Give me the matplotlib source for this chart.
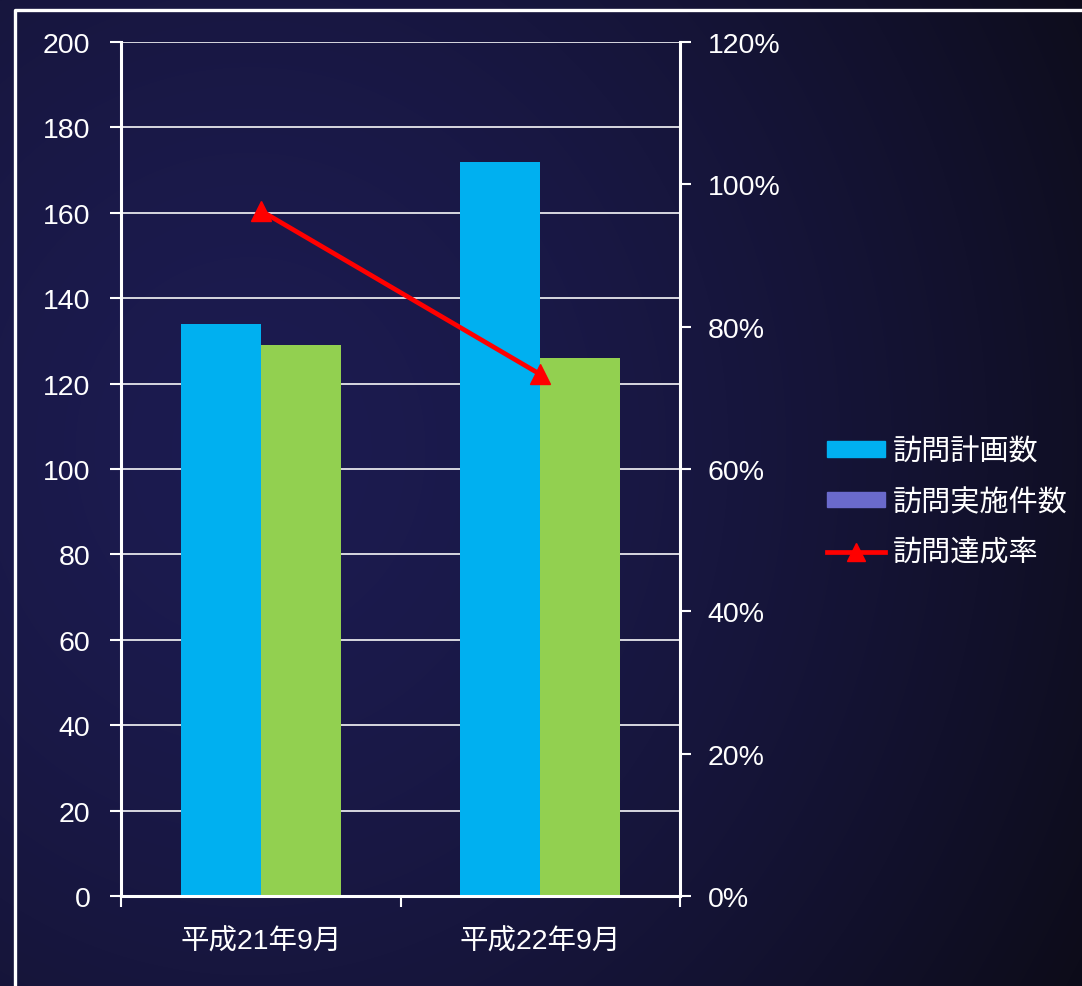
import matplotlib
matplotlib.use("Agg")
import matplotlib.pyplot as plt
import numpy as np
from matplotlib.patches import Patch
from matplotlib.lines import Line2D
from matplotlib.ticker import FuncFormatter, FixedLocator

plt.rcParams['font.family'] = ['Liberation Sans', 'Noto Sans CJK JP', 'DejaVu Sans']

# data
categories = ["平成21年9月", "平成22年9月"]
plan_counts = [134, 172]      # 訪問計画数
done_counts = [129, 126]      # 訪問実施件数
rate = [0.963, 0.733]         # 訪問達成率
series_names = ["訪問計画数", "訪問実施件数", "訪問達成率"]

blue = "#00B0F0"
green = "#92D050"
purple = "#6A6ACC"
red = "#FF0000"

W, H = 1082, 987
fig = plt.figure(figsize=(W / 100, H / 100), dpi=100)

# background: dark navy radial-ish gradient
bg = fig.add_axes([0, 0, 1, 1], zorder=0)
yy, xx = np.mgrid[0:H, 0:W]
d = np.sqrt(((xx - 250) / 1.0) ** 2 + ((yy - 450) / 1.1) ** 2)
t = np.clip(d / 950.0, 0, 1) ** 1.6
inner = np.array([28, 27, 80]) / 255.0
outer = np.array([13, 12, 26]) / 255.0
img = inner[None, None, :] * (1 - t[..., None]) + outer[None, None, :] * t[..., None]
bg.imshow(img, extent=[0, 1, 0, 1], aspect='auto', origin='upper')
bg.set_axis_off()

# white frame (partially visible)
fx = 14.5 / W
fy = 1 - 10.5 / H
fig.add_artist(Line2D([fx, fx, 1.0], [0.0, fy, fy], transform=fig.transFigure,
                      color='white', lw=2.4, zorder=1))

ax = fig.add_axes([121 / W, 1 - 897 / H, (680 - 121) / W, (897 - 43) / H], zorder=2)
ax.patch.set_alpha(0)

x = np.arange(len(categories))
w = 0.286
ax.bar(x - w / 2, plan_counts, w, color=blue, zorder=2)
ax.bar(x + w / 2, done_counts, w, color=green, zorder=2)

ax.set_xlim(-0.5, 1.5)
ax.set_ylim(0, 200)
ax.set_yticks(np.arange(0, 201, 20))
ax.yaxis.grid(True, color='#d8d8e0', lw=1.4, zorder=1)
ax.set_axisbelow(True)

ax.xaxis.set_major_locator(FixedLocator([-0.5, 0.5, 1.5]))
ax.xaxis.set_major_formatter(FuncFormatter(lambda v, p: ""))
ax.xaxis.set_minor_locator(FixedLocator(list(x)))
ax.set_xticklabels(categories, minor=True)
ax.tick_params(axis='x', which='major', direction='out', length=8, width=1.5, color='white')
ax.tick_params(axis='x', which='minor', length=0, pad=23, labelsize=20.5, labelcolor='white')
ax.tick_params(axis='y', direction='out', length=8, width=1.5, color='white',
               labelcolor='white', labelsize=20.5, pad=14)

for s in ['left', 'right', 'bottom']:
    ax.spines[s].set_color('white')
    ax.spines[s].set_linewidth(2.2)
ax.spines['top'].set_visible(False)

ax2 = ax.twinx()
ax2.set_zorder(3)
ax2.patch.set_alpha(0)
ax2.plot(x, rate, color=red, lw=3.4, marker='^', ms=15, zorder=5)
ax2.set_ylim(0, 1.2)
ax2.set_yticks(np.arange(0, 1.21, 0.2))
ax2.yaxis.set_major_formatter(FuncFormatter(lambda v, p: "{:.0f}%".format(v * 100)))
ax2.tick_params(axis='y', direction='out', length=8, width=1.5, color='white',
                labelcolor='white', labelsize=20.5, pad=12)
for s in ['left', 'right', 'bottom', 'top']:
    ax2.spines[s].set_visible(False)

handles = [Patch(color=blue), Patch(color=purple),
           Line2D([], [], color=red, lw=3.4, marker='^', ms=13)]
fig.legend(handles, series_names, loc='center left',
           bbox_to_anchor=(827 / W, 1 - 503 / H), frameon=False,
           labelcolor='white', fontsize=21, handlelength=2.0, handleheight=0.45,
           handletextpad=0.25, labelspacing=0.78, borderaxespad=0, borderpad=0)

fig.savefig("out.png", dpi=100)
